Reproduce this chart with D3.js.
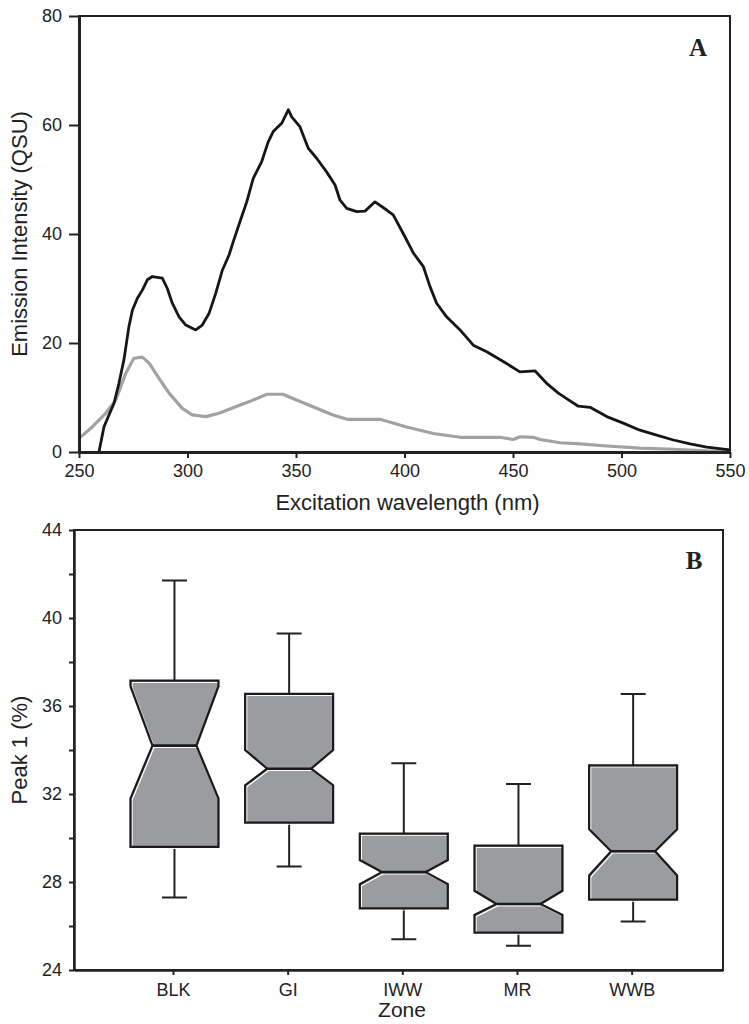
<!DOCTYPE html>
<html>
<head>
<meta charset="utf-8">
<script src="https://cdn.jsdelivr.net/npm/d3@7"></script>
<style>
  body { margin: 0; background: #fff; }
  svg { display: block; font-family: "Liberation Sans", Arial, sans-serif; }
  .tick text { font-size: 18px; fill: #222; }
  .tick line { stroke: #222; stroke-width: 2; }
</style>
</head>
<body>
<svg id="fig" width="749" height="1024"></svg>
<script>
// panel A: excitation spectra, [wavelength nm, intensity QSU]
const spectrumDark = [
  [259.2, 0], [261.5, 4.6], [263.8, 6.8], [266.1, 8.9], [268.4, 12.6], [270.7, 16.9],
  [273, 23], [274.6, 26], [276.9, 28.2], [279.2, 29.7], [281.5, 31.6], [283.8, 32.2],
  [288.4, 31.9], [290.7, 30], [293, 27.3], [296.1, 24.8], [299.2, 23.3], [303.8, 22.4],
  [306.8, 23.3], [309.9, 25.4], [313, 29.1], [316.1, 33.4], [319.1, 36.1], [321.1, 38.6],
  [324.2, 42.3], [327.3, 45.9], [330.3, 50.2], [334.2, 53.3], [337.2, 56.9], [339.5, 58.8],
  [343.4, 60.3], [346.5, 62.8], [348, 61.5], [351.8, 59.7], [355.7, 55.7], [359.5, 53.9],
  [364.1, 51.4], [368, 49], [370.3, 46.2], [373.4, 44.7], [378, 44.1], [381.8, 44.2],
  [386.4, 45.9], [391.8, 44.4], [394.8, 43.5], [400.2, 39.5], [404.1, 36.5], [408.7, 34],
  [411.8, 30.3], [414.8, 27.3], [419.4, 24.8], [425.6, 22.4], [431.7, 19.6], [437.9, 18.4],
  [445.5, 16.6], [453.2, 14.7], [460.1, 14.9], [465.5, 12.6], [470.9, 10.8], [474.7, 9.8],
  [480.1, 8.4], [485.5, 8.2], [493.2, 6.5], [500.8, 5.3], [508.5, 4.0], [516.2, 3.1],
  [523.9, 2.2], [531.6, 1.5], [539.3, 0.9], [550, 0.4]
];
const spectrumLight = [
  [250, 2.5], [256.1, 4.6], [262.3, 7.1], [266.9, 9.5], [271.5, 14.4], [275.3, 17.2],
  [279.2, 17.4], [282.3, 16.3], [286.9, 13.5], [291.5, 10.8], [297.6, 8.0], [302.2, 6.8],
  [308.4, 6.5], [314.5, 7.1], [322.2, 8.3], [328.3, 9.2], [336.6, 10.6], [344, 10.6],
  [350.5, 9.5], [357.8, 8.3], [367, 6.8], [373.5, 6.0], [388.7, 6.0], [401, 4.6],
  [413.3, 3.4], [425.6, 2.7], [444, 2.7], [450.1, 2.3], [453.2, 2.8], [459.4, 2.7],
  [462.4, 2.3], [471.7, 1.7], [480.9, 1.5], [493.2, 1.1], [508.5, 0.7], [523.9, 0.5],
  [539.3, 0.2], [550, 0.1]
];
const xTicksA = [250, 300, 350, 400, 450, 500, 550];
const yTicksA = [0, 20, 40, 60, 80];

// panel B: notched boxes of Peak 1 (%) by zone
const zones     = ["BLK", "GI", "IWW", "MR", "WWB"];
const whiskerLo = [27.3, 28.7, 25.4, 25.1, 26.2];
const q1        = [29.6, 30.7, 26.8, 25.7, 27.2];
const notchLo   = [31.8, 32.4, 27.9, 26.5, 28.3];
const median    = [34.2, 33.15, 28.45, 27.0, 29.4];
const notchHi   = [36.9, 34.0, 29.0, 27.6, 30.4];
const q3        = [37.15, 36.55, 30.2, 29.65, 33.3];
const whiskerHi = [41.7, 39.3, 33.4, 32.45, 36.55];
const yTicksB = [24, 26, 28, 30, 32, 34, 36, 38, 40, 42, 44];

const svg = d3.select('#fig');

// ---------- panel A ----------
const A = {left: 79, right: 730, top: 16, bottom: 452};
const xA = d3.scaleLinear().domain([250, 550]).range([A.left, A.right]);
const yA = d3.scaleLinear().domain([0, 80]).range([A.bottom, A.top]);

const gA = svg.append('g');
gA.append('rect')
  .attr('x', A.left).attr('y', A.top)
  .attr('width', A.right - A.left).attr('height', A.bottom - A.top)
  .attr('fill', 'none').attr('stroke', '#222').attr('stroke-width', 2);

const lineA = d3.line().x(d => xA(d[0])).y(d => yA(d[1]));
gA.append('path').datum(spectrumLight)
  .attr('d', lineA).attr('fill', 'none')
  .attr('stroke', '#a2a2a2').attr('stroke-width', 3.2).attr('stroke-linejoin', 'round');
gA.append('path').datum(spectrumDark)
  .attr('d', lineA).attr('fill', 'none')
  .attr('stroke', '#161616').attr('stroke-width', 2.8).attr('stroke-linejoin', 'round');

gA.append('g')
  .attr('transform', `translate(0,${A.bottom})`)
  .call(d3.axisBottom(xA).tickValues(xTicksA).tickSize(6).tickPadding(6).tickSizeOuter(0))
  .call(g => g.select('.domain').attr('stroke', '#222').attr('stroke-width', 3));
gA.append('g')
  .attr('transform', `translate(${A.left},0)`)
  .call(d3.axisLeft(yA).tickValues(yTicksA).tickSize(10).tickPadding(7).tickSizeOuter(0))
  .call(g => g.select('.domain').attr('stroke', '#222').attr('stroke-width', 3));

gA.append('text')
  .attr('x', (A.left + A.right) / 2 + 3).attr('y', 510)
  .attr('text-anchor', 'middle').attr('font-size', 22).attr('fill', '#222')
  .text('Excitation wavelength (nm)');
gA.append('text')
  .attr('transform', `translate(27,${(A.top + A.bottom) / 2}) rotate(-90)`)
  .attr('text-anchor', 'middle').attr('font-size', 22).attr('fill', '#222')
  .text('Emission Intensity (QSU)');
gA.append('text')
  .attr('x', 698).attr('y', 56)
  .attr('text-anchor', 'middle').attr('font-size', 25).attr('font-weight', 'bold')
  .attr('font-family', '"Liberation Serif", "Times New Roman", serif').attr('fill', '#222')
  .text('A');

// ---------- panel B ----------
const B = {left: 74, right: 723, top: 530, bottom: 970};
const xB = d3.scalePoint().domain(zones).range([B.left, B.right]).padding(0.83).align(0.52);
const yB = d3.scaleLinear().domain([24, 44]).range([B.bottom, B.top]);

const gB = svg.append('g');
gB.append('rect')
  .attr('x', B.left).attr('y', B.top)
  .attr('width', B.right - B.left).attr('height', B.bottom - B.top)
  .attr('fill', 'none').attr('stroke', '#222').attr('stroke-width', 2);

gB.append('g')
  .attr('transform', `translate(0,${B.bottom})`)
  .call(d3.axisBottom(xB).tickSize(5).tickPadding(8).tickSizeOuter(0))
  .call(g => g.select('.domain').attr('stroke', '#222').attr('stroke-width', 2.5));
gB.append('g')
  .attr('transform', `translate(${B.left},0)`)
  .call(d3.axisLeft(yB).tickValues(yTicksB).tickSize(5).tickPadding(7).tickSizeOuter(0)
    .tickFormat(d => d % 4 === 0 ? d : ''))
  .call(g => g.select('.domain').attr('stroke', '#222').attr('stroke-width', 2.5));

const boxes = zones.map((z, i) => ({
  zone: z, wLo: whiskerLo[i], q1: q1[i], nLo: notchLo[i], med: median[i],
  nHi: notchHi[i], q3: q3[i], wHi: whiskerHi[i]
}));
const hw = 44, nw = 22, cap = 12.5;

const boxG = gB.selectAll('g.box').data(boxes).enter().append('g')
  .attr('class', 'box')
  .attr('transform', d => `translate(${xB(d.zone) + 1.5},0)`);

// whiskers
boxG.append('path')
  .attr('fill', 'none').attr('stroke', '#222').attr('stroke-width', 2)
  .attr('d', d => `M0,${yB(d.q3)}V${yB(d.wHi)}M${-cap},${yB(d.wHi)}H${cap}` +
                  `M0,${yB(d.q1)}V${yB(d.wLo)}M${-cap},${yB(d.wLo)}H${cap}`);

const outline = d => [
  [-hw, yB(d.q3)], [hw, yB(d.q3)], [hw, yB(d.nHi)], [nw, yB(d.med)],
  [hw, yB(d.nLo)], [hw, yB(d.q1)], [-hw, yB(d.q1)], [-hw, yB(d.nLo)],
  [-nw, yB(d.med)], [-hw, yB(d.nHi)]
].join(' ');

boxG.append('polygon')
  .attr('points', outline)
  .attr('fill', '#9b9c9f');
// bevel highlight
boxG.append('polygon')
  .attr('points', outline)
  .attr('transform', 'translate(1.6,1.6)')
  .attr('fill', 'none').attr('stroke', '#fff').attr('stroke-width', 1.2);
boxG.append('path')
  .attr('d', d => `M${-nw},${yB(d.med) + 1.8}H${nw}`)
  .attr('stroke', '#fff').attr('stroke-width', 1.2);
boxG.append('polygon')
  .attr('points', outline)
  .attr('fill', 'none').attr('stroke', '#1a1a1a').attr('stroke-width', 2.2)
  .attr('stroke-linejoin', 'miter');
boxG.append('path')
  .attr('d', d => `M${-nw},${yB(d.med)}H${nw}`)
  .attr('stroke', '#1a1a1a').attr('stroke-width', 2.6);

gB.append('text')
  .attr('x', 402).attr('y', 1017)
  .attr('text-anchor', 'middle').attr('font-size', 21).attr('fill', '#222')
  .text('Zone');
gB.append('text')
  .attr('transform', `translate(27,${(B.top + B.bottom) / 2}) rotate(-90)`)
  .attr('text-anchor', 'middle').attr('font-size', 22).attr('fill', '#222')
  .text('Peak 1 (%)');
gB.append('text')
  .attr('x', 694).attr('y', 569)
  .attr('text-anchor', 'middle').attr('font-size', 25).attr('font-weight', 'bold')
  .attr('font-family', '"Liberation Serif", "Times New Roman", serif').attr('fill', '#222')
  .text('B');
</script>
</body>
</html>
